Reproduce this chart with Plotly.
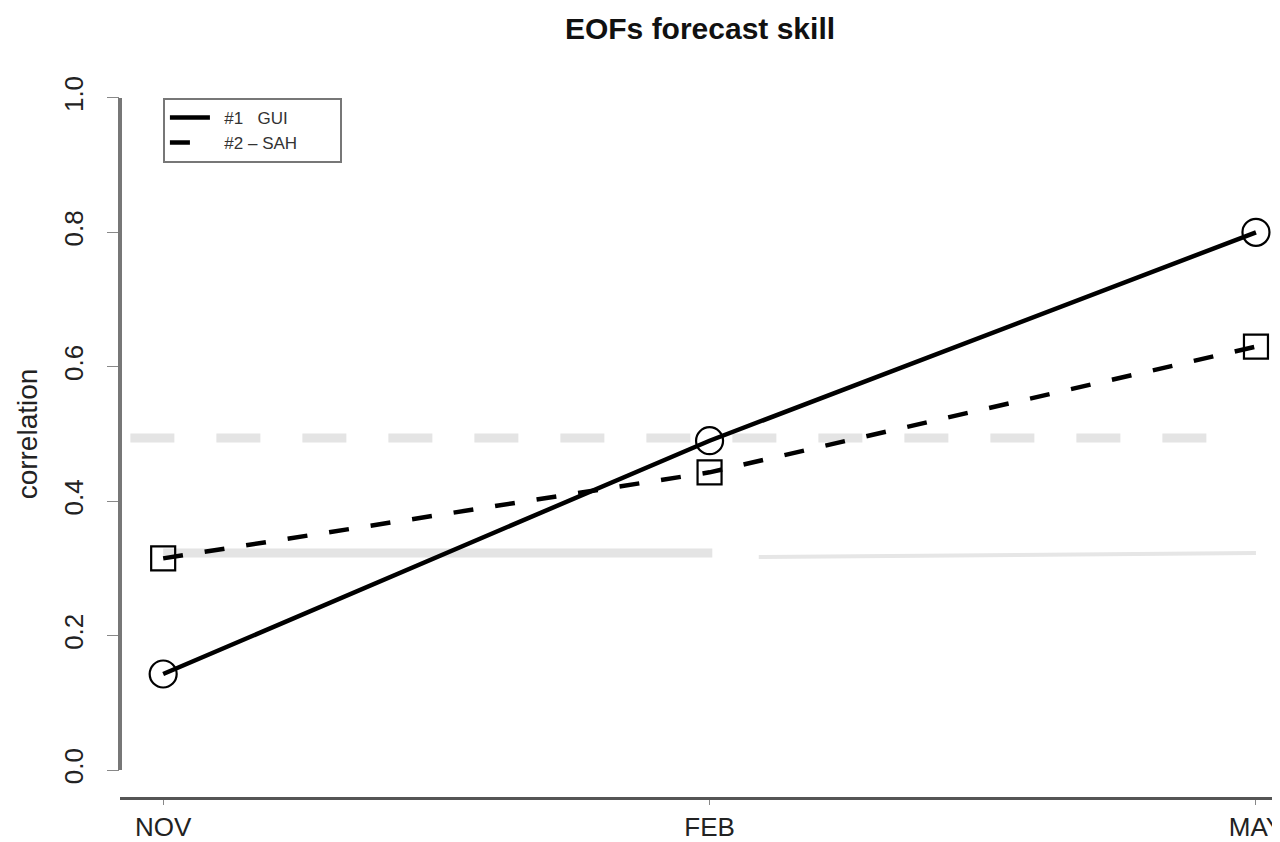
import plotly.graph_objects as go

months = ["NOV", "FEB", "MAY"]
month_pos = [0, 1, 2]
gui = [0.143, 0.490, 0.800]
sah = [0.315, 0.443, 0.630]
ref_dashed_level = 0.494
ref_solid_level = 0.323
y_ticks = [0.0, 0.2, 0.4, 0.6, 0.8, 1.0]
y_tick_labels = ["0.0", "0.2", "0.4", "0.6", "0.8", "1.0"]

fig = go.Figure()

# light gray reference lines
fig.add_trace(go.Scatter(x=[-0.06, 1.93], y=[ref_dashed_level] * 2, mode="lines",
                         line=dict(color="#e4e4e4", width=9, dash="44px,42px"),
                         showlegend=False, hoverinfo="skip"))
fig.add_trace(go.Scatter(x=[0, 1.005], y=[ref_solid_level] * 2, mode="lines",
                         line=dict(color="#e4e4e4", width=9),
                         showlegend=False, hoverinfo="skip"))
fig.add_trace(go.Scatter(x=[1.09, 2.0], y=[ref_solid_level - 0.006, ref_solid_level], mode="lines",
                         line=dict(color="#e6e6e6", width=4),
                         showlegend=False, hoverinfo="skip"))

# series lines
pad = "\u00a0" * 8
fig.add_trace(go.Scatter(x=month_pos, y=gui, mode="lines", name="\u00a0\u00a0#1   GUI" + pad,
                         line=dict(color="black", width=4.5)))
fig.add_trace(go.Scatter(x=month_pos, y=sah, mode="lines", name="\u00a0\u00a0#2 \u2013 SAH" + pad,
                         line=dict(color="black", width=4.5, dash="20px,22px")))
# markers
fig.add_trace(go.Scatter(x=month_pos, y=gui, mode="markers", showlegend=False,
                         marker=dict(symbol="circle-open", size=27, color="black",
                                     line=dict(width=2.2, color="black"))))
fig.add_trace(go.Scatter(x=month_pos, y=sah, mode="markers", showlegend=False,
                         marker=dict(symbol="square-open", size=24, color="black",
                                     line=dict(width=2.2, color="#222"))))

# R-style y axis line from 0 to 1
fig.add_shape(type="line", xref="paper", yref="y", x0=0, x1=0, y0=0, y1=1,
              line=dict(color="#777777", width=4))

fig.update_layout(
    width=1280, height=842,
    margin=dict(l=112, r=8, t=63, b=53),
    paper_bgcolor="white", plot_bgcolor="white",
    font=dict(family="Liberation Sans, Arial, sans-serif", color="#222222"),
    title=dict(text="<b>EOFs forecast skill</b>", x=0.5, xref="paper", y=1 - 20 / 842,
               yanchor="middle", font=dict(size=30, color="#111111")),
    showlegend=True,
    legend=dict(x=0.037, y=0.963, xanchor="left", yanchor="top",
                bordercolor="#777777", borderwidth=2, bgcolor="white",
                font=dict(size=17, color="#333333"),
                itemwidth=40, tracegroupgap=2),
)
fig.update_xaxes(range=[-0.079, 2.044], tickvals=month_pos, ticktext=months,
                 showgrid=False, zeroline=False, showline=True, automargin=False,
                 linecolor="#555555", linewidth=2.5,
                 ticks="outside", ticklen=5, tickcolor="#888888", tickwidth=1,
                 tickfont=dict(size=26, color="#222222"))
fig.update_yaxes(range=[-0.04, 1.04], tickvals=y_ticks, ticktext=y_tick_labels,
                 showgrid=False, zeroline=False, showline=False, automargin=False,
                 ticks="outside", ticklen=12, tickcolor="#888888", tickwidth=1,
                 ticklabelstandoff=14,
                 tickangle=-90, tickfont=dict(size=26, color="#222222"),
                 title=dict(text="correlation", font=dict(size=28, color="#222222"),
                            standoff=12))

fig.write_html("out.html")
